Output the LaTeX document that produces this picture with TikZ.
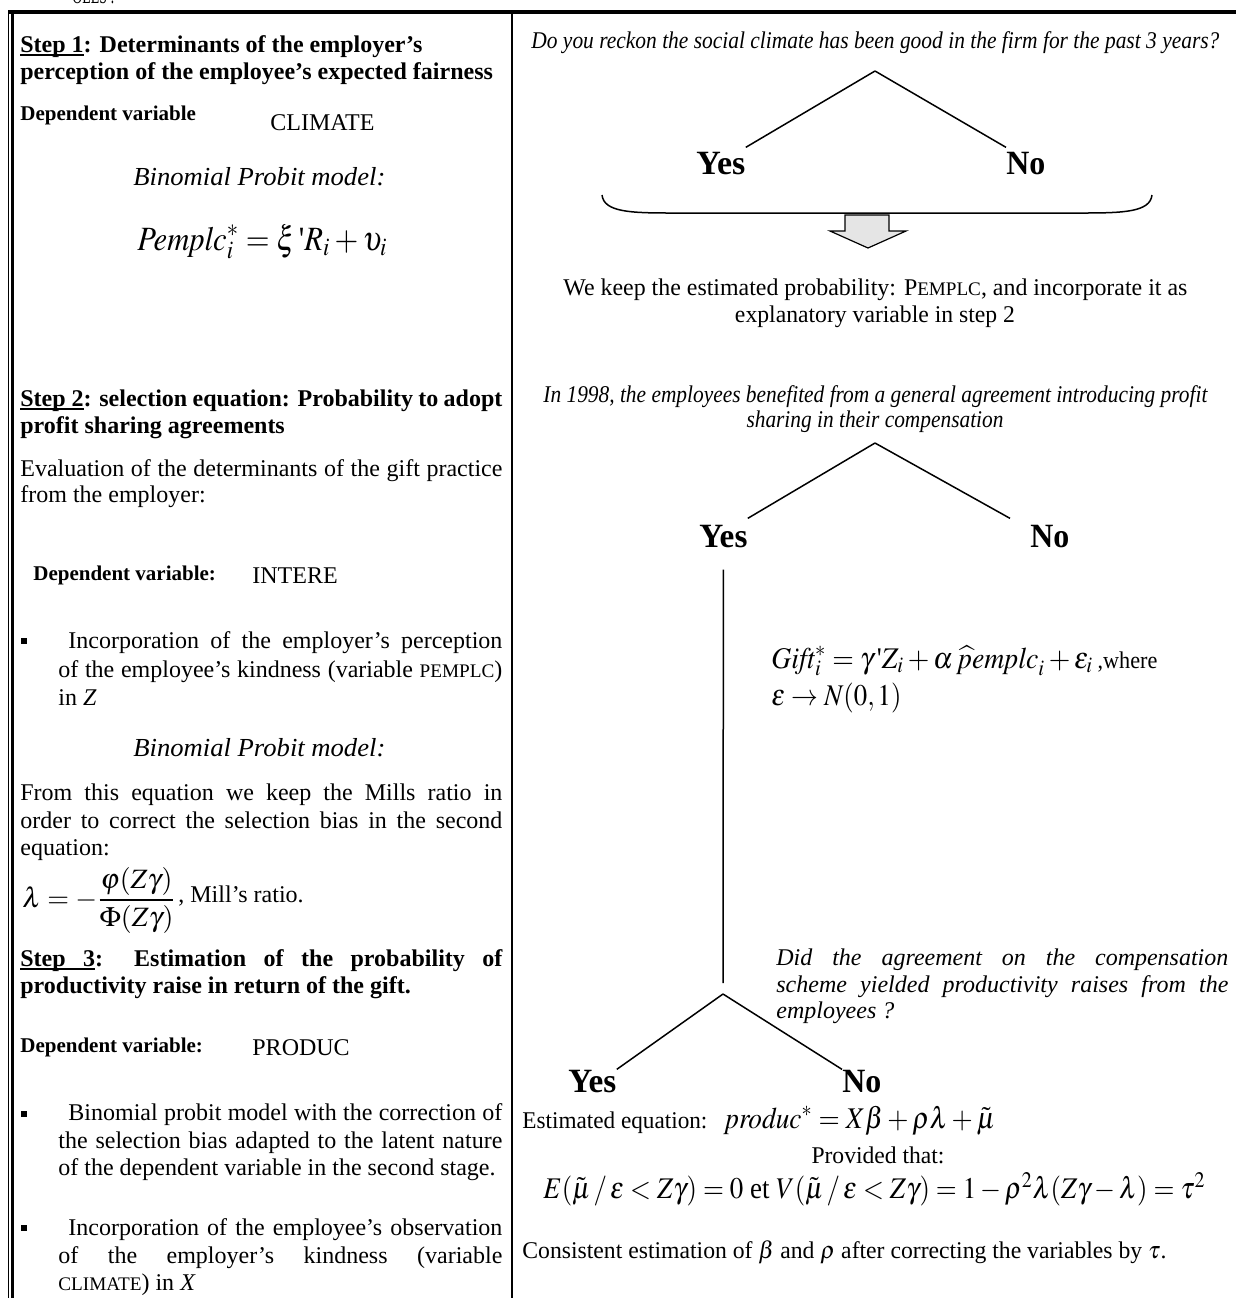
\documentclass[tikz,border=0pt]{standalone}
\usepackage{amsmath}
\usepackage{mathptmx}
\usepackage{fontspec}
\setmainfont{Liberation Serif}
\usepackage{graphicx}
\usetikzlibrary{positioning}

\newcommand{\fitw}[2]{\resizebox{#1}{\height}{#2}}
\newcommand{\smc}[1]{{\fontsize{9.6}{11}\selectfont #1}}
\newcommand{\jline}[1]{\makebox[241pt][s]{#1}}
\newcommand{\tick}{\textnormal{\textquotesingle}}
% underline close to the baseline, as the word processor draws it
\newcommand{\ulbox}[1]{\setbox0\hbox{#1}\rlap{\vrule height -0.8pt depth 1.8pt width \wd0}\box0}
\newcommand{\ulsp}{\leaders\vrule height -0.8pt depth 1.8pt\hskip\fontdimen2\font plus\fontdimen3\font minus\fontdimen4\font}

\begin{document}
\begin{tikzpicture}[x=0.5pt,y=-0.5pt,
    txt/.style={anchor=base west,inner sep=0pt,font=\fontsize{12}{14}\selectfont},
    ctxt/.style={txt,anchor=base},
    head/.style={txt,font=\fontsize{12}{14}\selectfont\bfseries},
    depvar/.style={txt,font=\fontsize{10.5}{12}\selectfont\bfseries},
    quest/.style={txt,font=\fontsize{12}{14}\selectfont\itshape},
    answer/.style={txt,font=\fontsize{17}{20}\selectfont\bfseries},
    bullet/.style={fill=black,inner sep=0pt,minimum size=3pt},
    branch/.style={line width=0.75pt}]
    \useasboundingbox (0,0) rectangle (1236,1298);

    % frame of the table
    \draw[line width=2pt] (8,12) -- (1236,12);
    \draw[line width=0.5pt] (8.8,12) -- (8.8,1298);
    \draw[line width=1.5pt] (12.5,12) -- (12.5,1298);
    \draw[line width=1pt] (512,12) -- (512,1298);
    \node[txt] (cut) at (72,3) {\fitw{21pt}{OLES :}};

    % left column, step 1
    \node[head] (s1a) at (20,52) {\ulbox{Step 1}: Determinants of the employer’s};
    \node[head] (s1b) at (20,79) {perception of the employee’s expected fairness};
    \node[depvar] (dv1) at (20,120) {Dependent variable};
    \node[txt] (clim) at (270,130) {CLIMATE};
    \node[txt,font=\fontsize{13}{15}\selectfont\itshape] (bp1) at (133,185) {\fitw{126pt}{Binomial Probit model:}};
    \node[txt] (eq1) at (137,250) {\fitw{125pt}{\fontsize{17}{20}\selectfont$\mathit{Pemplc}_i^{*} = \xi\,\tick R_i + \upsilon_i$}};

    % left column, step 2
    \node[head] (s2a) at (20,406) {\jline{\ulbox{Step 2}: selection equation: Probability to adopt}};
    \node[head] (s2b) at (20,433) {profit sharing agreements};
    \node[txt] (ev1) at (20,476) {\jline{Evaluation of the determinants of the gift practice}};
    \node[txt] (ev2) at (20,502) {from the employer:};
    \node[depvar] (dv2) at (33,580) {Dependent variable:};
    \node[txt] (intere) at (252,583) {INTERE};
    \node[bullet] (b1) at (24,641) {};
    \node[txt] (in1) at (68,648) {\makebox[217pt][s]{Incorporation of the employer’s perception}};
    \node[txt] (in2) at (58,677) {\makebox[222pt][s]{of the employee’s kindness (variable \smc{PEMPLC})}};
    \node[txt] (in3) at (58,705) {in \textit{Z}};
    \node[txt,font=\fontsize{13}{15}\selectfont\itshape] (bp2) at (133,756) {\fitw{126pt}{Binomial Probit model:}};
    \node[txt] (mr1) at (20,800) {\jline{From this equation we keep the Mills ratio in}};
    \node[txt] (mr2) at (20,828) {\jline{order to correct the selection bias in the second}};
    \node[txt] (mr3) at (20,855) {equation:};
    \node[txt,font=\fontsize{14}{16}\selectfont] (lam) at (22,907) {$\lambda = -\dfrac{\varphi(Z\gamma)}{\Phi(Z\gamma)}$};
    \node[txt] (mill) at (178,902) {, Mill’s ratio.};

    % left column, step 3
    \node[head] (s3a) at (20,966) {\jline{\ulbox{Step}\ulsp\ulbox{3}: Estimation of the probability of}};
    \node[head] (s3b) at (20,993) {productivity raise in return of the gift.};
    \node[depvar] (dv3) at (20,1052) {Dependent variable:};
    \node[txt] (produc) at (252,1055) {PRODUC};
    \node[bullet] (b2) at (24,1114) {};
    \node[txt] (bm1) at (68,1120) {\makebox[217pt][s]{Binomial probit model with the correction of}};
    \node[txt] (bm2) at (58,1148) {\makebox[222pt][s]{the selection bias adapted to the latent nature}};
    \node[txt] (bm3) at (58,1175) {of the dependent variable in the second stage.};
    \node[bullet] (b3) at (24,1228) {};
    \node[txt] (ob1) at (68,1235) {\makebox[217pt][s]{Incorporation of the employee’s observation}};
    \node[txt] (ob2) at (58,1263) {\makebox[222pt][s]{of the employer’s kindness (variable}};
    \node[txt] (ob3) at (58,1290) {\smc{CLIMATE}) in \textit{X}};

    % right column, first tree
    \node[quest] (q1) at (531,48) {\fitw{344pt}{Do you reckon the social climate has been good in the firm for the past 3 years?}};
    \coordinate (top1) at (875,71);
    \node[answer] (yes1) at (696,174) {\fitw{24.5pt}{Yes}};
    \node[answer] (no1) at (1006,174) {\fitw{19.5pt}{No}};
    \draw[branch] (top1) -- ([yshift=2pt]yes1.north east);
    \draw[branch] (top1) -- ([yshift=2pt]no1.north west);
    \draw[branch] (602,195) .. controls (604,212) and (630,213) .. (672,213) -- (1082,213) .. controls (1124,213) and (1150,212) .. (1152,195);
    \draw[line width=0.6pt,fill=gray!20] (845,215) -- (889,215) -- (889,231) -- (906,231) -- (868,248) -- (830,231) -- (845,231) -- cycle;
    \node[txt] (keep1) at (563,295) {\fitw{312pt}{We keep the estimated probability: P\smc{EMPLC}, and incorporate it as}};
    \node[ctxt] (keep2) at (875,322) {\fitw{140pt}{explanatory variable in step 2}};

    % right column, second tree
    \node[quest] (q2a) at (543,402) {\fitw{332pt}{In 1998, the employees benefited from a general agreement introducing profit}};
    \node[quest,anchor=base] (q2b) at (875,427) {\fitw{128.5pt}{sharing in their compensation}};
    \coordinate (top2) at (875,443);
    \node[answer] (yes2) at (699,547) {\fitw{24pt}{Yes}};
    \node[answer] (no2) at (1030,547) {\fitw{19.5pt}{No}};
    \draw[branch] (top2) -- ([yshift=3pt]yes2.north east);
    \draw[branch] (top2) -- ([xshift=-10pt,yshift=3pt]no2.north west);
    \node[txt] (gift1) at (771,668) {\fitw{193pt}{\fontsize{15}{18}\selectfont$\mathit{Gift}_i^{*} = \gamma\,\tick Z_i + \alpha\,\widehat{p}\mathit{emplc}_i + \varepsilon_i$\,{\fontsize{12}{14}\selectfont,where}}};
    \node[txt] (gift2) at (771,705) {\fitw{65pt}{\fontsize{15}{18}\selectfont$\varepsilon \rightarrow N(0,1)$}};

    % right column, third tree
    \coordinate (top3) at (723,994);
    \draw[branch] ([yshift=-11pt]yes2.south) -- ([yshift=5.5pt]top3);
    \node[quest] (q3a) at (776,965) {\makebox[226pt][s]{Did the agreement on the compensation}};
    \node[quest] (q3b) at (776,992) {\makebox[226pt][s]{scheme yielded productivity raises from the}};
    \node[quest] (q3c) at (776,1018) {employees ?};
    \node[answer] (yes3) at (568,1092) {\fitw{24pt}{Yes}};
    \node[answer] (no3) at (842,1092) {\fitw{19.5pt}{No}};
    \draw[branch] (top3) -- (yes3.north east);
    \draw[branch] (top3) -- (no3.north west);
    \node[txt] (est) at (522,1128) {\fitw{92.5pt}{Estimated equation:}};
    \node[txt] (esteq) at (725,1128) {\fitw{135pt}{\fontsize{15}{18}\selectfont$\mathit{produc}^{*} = X\beta + \rho\lambda + \tilde{\mu}$}};
    \node[ctxt] (prov) at (878,1163) {\fitw{66.5pt}{Provided that:}};
    \node[txt] (cond) at (543,1198) {\fitw{331pt}{\fontsize{15}{18}\selectfont$E(\tilde{\mu}\,/\,\varepsilon < Z\gamma) = 0$ et $V(\tilde{\mu}\,/\,\varepsilon < Z\gamma) = 1 - \rho^{2}\lambda(Z\gamma - \lambda) = \tau^{2}$}};
    \node[txt] (cons) at (522,1258) {\fitw{322pt}{Consistent estimation of $\beta$ and $\rho$ after correcting the variables by $\tau$.}};
\end{tikzpicture}
\end{document}
